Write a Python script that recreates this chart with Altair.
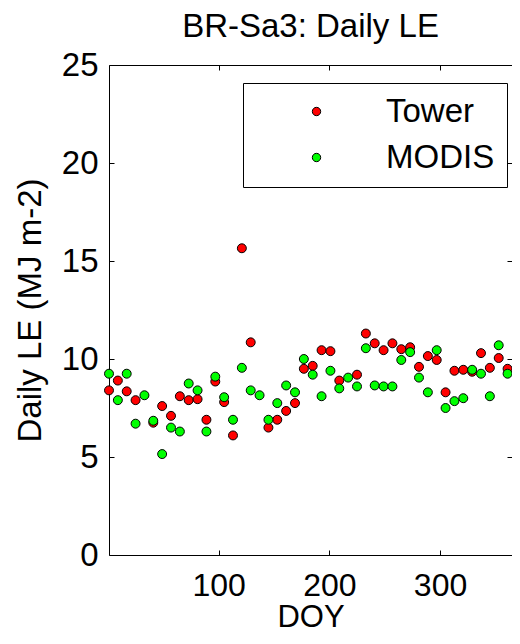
import altair as alt
import pandas as pd

doy = [1, 9, 17, 25, 33, 41, 49, 57, 65, 73, 81, 89, 97, 105, 113, 121, 129, 137,
       145, 153, 161, 169, 177, 185, 193, 201, 209, 217, 225, 233, 241, 249, 257,
       265, 273, 281, 289, 297, 305, 313, 321, 329, 337, 345, 353, 361]
tower = [8.4, 8.9, 8.35, 7.9, None, 6.75, 7.6, 7.1, 8.1, 7.9, 7.95, 6.9, 8.85, 7.8,
         6.1, 15.65, 10.85, None, 6.5, 6.9, 7.35, 7.75, 9.5, 9.65, 10.45, 10.4, 8.9,
         None, 9.2, 11.3, 10.8, 10.45, 10.8, 10.5, 10.6, 9.6, 10.15, 9.95, 8.3, 9.4,
         9.45, 9.35, 10.3, 9.55, 10.05, 9.5]
modis = [9.25, 7.9, 9.25, 6.7, 8.15, 6.85, 5.15, 6.5, 6.3, 8.75, 8.4, 6.3, 9.1, 8.05,
         6.9, 9.55, 8.4, 8.15, 6.9, 7.75, 8.65, 8.3, 10.0, 9.2, 8.1, 9.4, 8.5, 9.05,
         8.6, 10.55, 8.65, 8.6, 8.6, 9.95, 10.35, 9.05, 8.3, 10.45, 7.5, 7.85, 8.0,
         9.45, 9.25, 8.1, 10.7, 9.25]
series = ["Tower", "MODIS"]
colors = ["#ff0000", "#00ff00"]
x_ticks = [100, 200, 300]
y_ticks = [0, 5, 10, 15, 20, 25]

rows = []
for name, vals in zip(series, [tower, modis]):
    for d, v in zip(doy, vals):
        if v is not None:
            rows.append({"DOY": d, "LE": v, "series": name})
df = pd.DataFrame(rows)

FONT = "Liberation Sans"
FS = 33
xs = alt.Scale(domain=[1, 365], nice=False, zero=False)
ys = alt.Scale(domain=[0, 25], nice=False, zero=True)

base = alt.Chart(df)

points = base.mark_point(filled=True, size=80, stroke="black", strokeWidth=1, opacity=1).encode(
    x=alt.X("DOY:Q", scale=xs, axis=alt.Axis(
        orient="bottom", values=x_ticks, tickSize=5, offset=-5, domain=False, grid=False,
        labelPadding=15, labelFontSize=32, labelFont=FONT, labelColor="black",
        tickColor="black", labelFlush=False, labelOverlap=False,
        title="DOY", titleFontSize=31, titleFont=FONT, titleFontWeight="normal",
        titleColor="black", titlePadding=1)),
    y=alt.Y("LE:Q", scale=ys, axis=alt.Axis(
        orient="left", values=y_ticks, tickSize=5, offset=-5, domain=False, grid=False,
        labelPadding=11, labelFontSize=FS, labelFont=FONT, labelColor="black",
        tickColor="black", labelFlush=False, labelOverlap=False,
        title="Daily LE (MJ m-2)", titleFontSize=FS, titleFont=FONT,
        titleFontWeight="normal", titleColor="black", titlePadding=14)),
    color=alt.Color("series:N", scale=alt.Scale(domain=series, range=colors),
                    legend=alt.Legend(orient="none", legendX=134, legendY=18, title=None,
                                      strokeColor="black", fillColor="white", padding=12,
                                      symbolOffset=45, labelOffset=53, labelFontSize=FS,
                                      labelFont=FONT, labelColor="black", symbolSize=70,
                                      symbolType="circle", symbolStrokeColor="black",
                                      symbolStrokeWidth=1, rowPadding=12)),
    order=alt.Order("series:N", sort="descending"),
)

mirror = base.mark_point(opacity=0).encode(
    x=alt.X("DOY:Q", scale=xs, axis=alt.Axis(
        orient="top", values=x_ticks, tickSize=5, offset=-5, domain=False, grid=False,
        labels=False, tickColor="black", title=None)),
    y=alt.Y("LE:Q", scale=ys, axis=alt.Axis(
        orient="right", values=y_ticks, tickSize=5, offset=-5, domain=False, grid=False,
        labels=False, tickColor="black", title=None)),
)

chart = alt.layer(points, mirror).resolve_axis(x="independent", y="independent").properties(
    width=403, height=490,
    padding={"left": 101, "top": 57, "right": 0, "bottom": 80},
    autosize="none",
    title=alt.TitleParams("BR-Sa3: Daily LE", font=FONT, fontSize=FS, fontWeight="normal",
                          color="black", anchor="middle", frame="group", offset=5),
).configure_view(stroke="black", strokeWidth=1)

chart.save("out.html", embed_options={"renderer": "svg", "actions": False})
